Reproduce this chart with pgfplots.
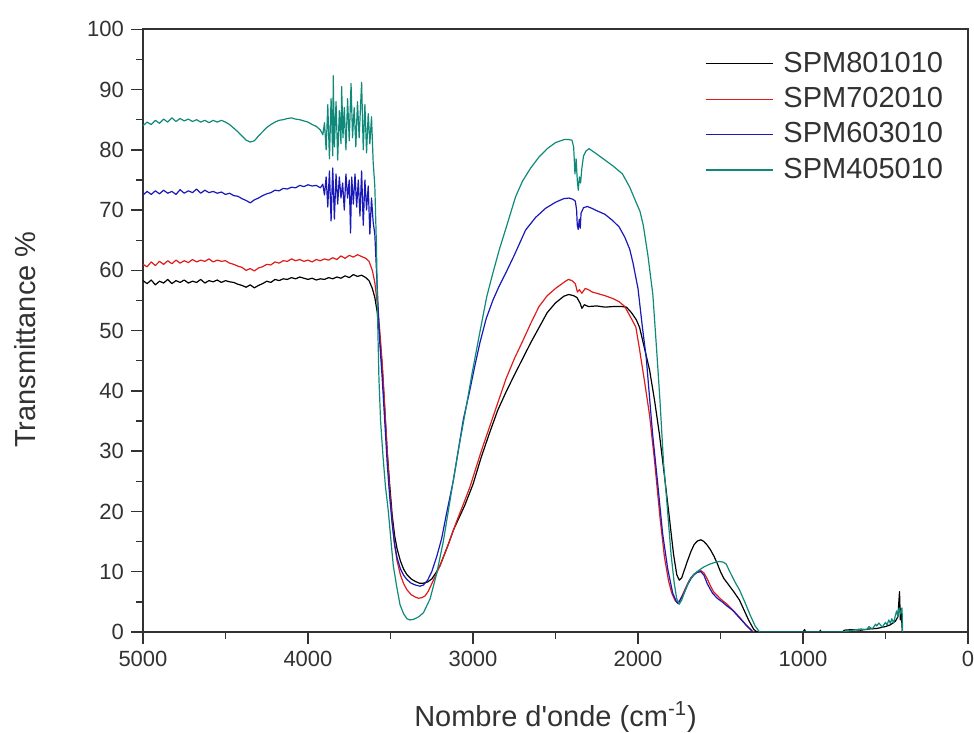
\documentclass[border=0pt]{standalone}
\usepackage{fontspec}
\setmainfont{Liberation Sans}
\newfontfamily\plainfont{Liberation Sans}
\usepackage{pgfplots}
\pgfplotsset{compat=1.18}
\definecolor{cRed}{RGB}{222,28,28}
\definecolor{cBlue}{RGB}{25,25,185}
\definecolor{cTeal}{RGB}{15,138,122}
\definecolor{cAxis}{RGB}{50,50,50}
\begin{document}
\begin{tikzpicture}
\begin{axis}[
  name=ax,
  scale only axis,
  width=412.5pt, height=301.35pt,
  x dir=reverse,
  xmin=0, xmax=5000, ymin=0, ymax=100,
  xtick={0,1000,2000,3000,4000,5000},
  ytick={0,10,...,100},
  minor x tick num=1, minor y tick num=1,
  scaled x ticks=false,
  /pgf/number format/1000 sep={},
  /pgf/number format/assume math mode=true,
  tick align=outside,
  xtick pos=bottom, ytick pos=left,
  major tick length=6pt, minor tick length=3.5pt,
  every tick/.style={cAxis, line width=0.7pt},
  axis line style={cAxis, line width=0.8pt},
  ticklabel style={font=\fontsize{11}{13}\selectfont, text=cAxis},
  xlabel={Nombre d{\plainfont '}onde (cm\textsuperscript{-1})},
  ylabel={Transmittance \%},
  xlabel style={font=\fontsize{14.5}{17}\selectfont, text=cAxis, at={(axis description cs:0.5,0)}, anchor=base, yshift=-47pt},
  ylabel style={font=\fontsize{14.5}{17}\selectfont, text=cAxis, at={(axis description cs:-0.143,0.485)}, anchor=center},
  legend cell align=left,
  legend style={at={(axis description cs:0.681,0.971)}, anchor=north west,
    draw=none, fill=none, inner sep=0pt, row sep=0pt,
    font=\fontsize{14.5}{17}\selectfont,
    nodes={inner sep=0pt, text height=12.5pt, text depth=5.2pt, text=cAxis},
    /tikz/every odd column/.append style={column sep=5pt}},
  legend image code/.code={\path (0pt,0pt); \draw[#1] (0pt,0.5pt) -- (33.5pt,0.5pt);},
  every axis plot/.append style={line width=0.6pt, line join=round},
]
% SPM801010
\addplot[black] coordinates {
(5000,58.3)(4975,57.8)(4950,58.4)(4925,57.6)(4900,58.2)(4875,57.9)(4850,58.5)(4825,57.8)(4800,58.3)(4775,58.0)
(4750,58.4)(4725,57.9)(4700,58.2)(4675,58.0)(4650,58.5)(4625,57.9)(4600,58.3)(4575,58.1)(4550,58.4)(4525,58.0)
(4500,58.3)(4475,58.1)(4450,58.0)(4425,57.7)(4400,57.5)(4375,57.2)(4350,57.6)(4325,57.1)(4300,57.5)(4275,57.8)
(4250,58.2)(4225,58.0)(4200,58.5)(4175,58.3)(4150,58.6)(4125,58.5)(4100,58.8)(4075,58.6)(4050,58.9)(4025,58.7)
(4000,58.5)(3975,58.7)(3950,58.4)(3925,58.6)(3900,58.5)(3875,58.8)(3850,58.6)(3825,58.9)(3800,58.7)(3775,59.1)
(3750,58.8)(3725,59.3)(3700,59.0)(3675,59.2)(3650,58.8)(3630,58.3)(3610,57.0)(3595,55.5)(3580,53.0)(3565,49.0)
(3550,44.0)(3535,37.0)(3520,30.0)(3505,24.5)(3490,19.5)(3475,16.0)(3460,13.8)(3440,11.8)(3420,10.4)(3400,9.5)
(3375,8.8)(3350,8.4)(3325,8.1)(3300,8.1)(3275,8.3)(3250,8.8)(3225,9.8)(3200,11.0)(3150,14.5)(3119,16.9)
(3050,21.0)(3000,24.5)(2950,29.0)(2900,33.0)(2850,36.8)(2800,39.8)(2750,42.6)(2700,45.3)(2650,48.0)(2600,50.5)
(2550,53.0)(2500,54.6)(2450,55.7)(2420,56.0)(2390,55.8)(2370,55.5)(2350,54.5)(2340,53.7)(2325,54.3)(2300,54.0)
(2250,54.1)(2200,53.9)(2150,54.0)(2100,54.0)(2070,53.9)(2040,53.0)(2010,51.8)(1990,50.5)(1960,47.0)(1930,43.5)
(1900,38.5)(1870,32.8)(1840,26.0)(1810,19.0)(1785,13.0)(1765,9.5)(1750,8.6)(1735,9.0)(1720,10.2)(1700,11.8)
(1680,13.3)(1660,14.5)(1640,15.1)(1618,15.3)(1600,15.0)(1580,14.4)(1560,13.6)(1540,12.6)(1520,11.4)(1500,10.0)
(1480,8.9)(1450,7.8)(1420,6.7)(1385,5.3)(1360,3.8)(1330,2.0)(1300,0.5)(1280,0)(1000,0)(990,0.4)(985,0)
(900,0)(895,0.3)(890,0)(760,0)(750,0.3)(700,0.4)(650,0.3)(600,0.5)(550,0.6)(500,0.9)(470,1.2)(440,1.8)
(425,2.5)(415,6.7)(410,2.0)(405,3.8)(398,0)
};
\addlegendentry{SPM801010}
% SPM702010
\addplot[cRed] coordinates {
(5000,61.0)(4975,60.6)(4950,61.4)(4925,60.8)(4900,61.5)(4875,61.0)(4850,61.6)(4825,61.1)(4800,61.7)(4775,61.2)
(4750,61.6)(4725,61.3)(4700,61.8)(4675,61.4)(4650,61.7)(4625,61.5)(4600,61.9)(4575,61.4)(4550,61.7)(4525,61.5)
(4500,61.6)(4475,61.2)(4450,61.0)(4425,60.7)(4400,60.5)(4375,60.0)(4350,60.3)(4325,59.9)(4300,60.4)(4275,60.6)
(4250,61.0)(4225,60.9)(4200,61.4)(4175,61.2)(4150,61.6)(4125,61.5)(4100,61.9)(4075,61.6)(4050,61.8)(4025,61.5)
(4000,61.7)(3975,61.4)(3950,61.8)(3925,61.6)(3900,61.9)(3875,61.7)(3850,62.1)(3825,61.8)(3800,62.4)(3775,62.0)
(3750,62.5)(3725,62.2)(3700,62.6)(3675,62.3)(3650,62.0)(3630,61.5)(3610,60.0)(3595,58.0)(3580,54.5)(3565,50.0)
(3550,44.5)(3535,37.5)(3520,30.0)(3505,23.5)(3490,18.5)(3475,14.5)(3460,11.8)(3440,9.5)(3420,8.0)(3400,7.0)
(3375,6.2)(3350,5.8)(3330,5.6)(3310,5.7)(3290,6.0)(3270,6.8)(3250,8.0)(3225,9.5)(3200,11.0)(3150,14.5)
(3100,18.3)(3050,21.8)(3018,24.1)(2950,30.0)(2900,34.0)(2850,38.0)(2800,42.0)(2750,45.3)(2700,48.2)(2650,51.2)
(2600,54.0)(2550,55.8)(2500,57.0)(2450,58.0)(2422,58.5)(2400,58.3)(2380,57.8)(2367,56.4)(2355,56.8)(2340,56.2)
(2320,57.0)(2300,56.8)(2277,56.4)(2250,56.2)(2200,55.8)(2150,55.3)(2114,54.8)(2080,54.0)(2050,52.5)(2013,50.6)
(1990,46.8)(1960,41.5)(1930,36.0)(1900,28.5)(1867,19.1)(1840,12.5)(1815,8.5)(1796,6.5)(1775,5.2)(1760,4.8)
(1745,5.3)(1720,6.8)(1700,8.0)(1680,9.0)(1660,9.6)(1640,10.0)(1620,10.2)(1600,9.8)(1580,8.8)(1560,7.6)
(1540,6.6)(1500,5.5)(1460,4.6)(1420,3.5)(1380,2.3)(1340,1.0)(1300,0)
};
\addlegendentry{SPM702010}
% SPM603010
\addplot[cBlue] coordinates {
(5000,72.5)(4975,73.1)(4950,72.6)(4925,73.2)(4900,72.7)(4875,73.3)(4850,72.8)(4825,73.1)(4800,72.6)(4775,73.4)
(4750,72.8)(4725,73.2)(4700,72.9)(4675,73.5)(4650,72.8)(4625,73.3)(4600,72.9)(4575,73.1)(4550,72.8)(4525,73.0)
(4500,72.6)(4475,72.8)(4450,72.4)(4425,72.3)(4400,71.9)(4375,71.6)(4350,71.2)(4325,71.7)(4300,72.0)(4275,72.4)
(4250,72.7)(4225,72.9)(4200,73.3)(4175,73.2)(4150,73.6)(4125,73.5)(4100,73.8)(4075,73.7)(4050,74.1)(4025,73.9)
(4000,74.2)(3975,74.0)(3950,74.1)(3925,73.7)(3910,74.3)(3900,72.5)(3890,75.5)(3880,70.5)(3870,76.5)(3860,68.2)
(3850,77.0)(3840,68.5)(3830,76.0)(3820,71.0)(3810,75.5)(3800,72.0)(3790,74.5)(3780,70.0)(3770,76.0)(3760,72.0)
(3750,75.0)(3742,66.2)(3735,75.5)(3725,71.0)(3715,76.0)(3705,70.5)(3695,75.0)(3685,69.0)(3675,76.5)(3665,67.5)
(3655,75.0)(3645,70.0)(3635,74.0)(3625,66.0)(3615,72.0)(3605,68.0)(3595,66.0)(3585,60.0)(3575,54.0)(3565,48.0)
(3550,42.0)(3535,35.0)(3520,28.0)(3505,22.5)(3490,18.0)(3475,14.5)(3460,12.3)(3440,10.5)(3420,9.4)(3400,8.7)
(3375,8.1)(3350,7.8)(3321,7.6)(3300,7.8)(3275,8.6)(3250,10.0)(3220,12.5)(3190,15.5)(3160,19.7)(3120,25.0)
(3090,30.0)(3059,35.2)(3020,40.0)(2990,44.0)(2958,48.0)(2920,52.0)(2880,55.0)(2843,57.3)(2806,59.3)(2750,62.5)
(2681,66.7)(2620,68.8)(2560,70.3)(2500,71.3)(2450,71.9)(2418,72.0)(2395,71.8)(2380,71.5)(2372,70.0)(2368,67.5)
(2362,66.8)(2356,68.5)(2350,67.0)(2345,69.5)(2330,70.4)(2307,70.6)(2280,70.3)(2250,69.9)(2200,69.3)(2155,68.3)
(2114,67.2)(2080,65.5)(2050,63.5)(2030,61.2)(2000,57.0)(1973,50.5)(1950,45.5)(1912,33.0)(1880,24.5)(1851,16.4)
(1820,10.5)(1790,6.5)(1770,5.2)(1757,4.7)(1745,5.3)(1720,6.5)(1700,7.8)(1680,8.8)(1660,9.5)(1640,9.9)
(1618,10.0)(1600,9.4)(1580,8.0)(1560,7.0)(1547,6.4)(1520,5.6)(1490,5.0)(1460,4.3)(1426,3.6)(1390,2.5)
(1350,1.3)(1304,0)
};
\addlegendentry{SPM603010}
% SPM405010
\addplot[cTeal] coordinates {
(5000,84.0)(4975,84.6)(4950,84.2)(4925,84.9)(4900,84.4)(4875,85.1)(4850,84.6)(4825,85.3)(4800,84.7)(4775,85.2)
(4750,84.8)(4725,85.1)(4700,84.7)(4675,85.0)(4650,84.6)(4625,84.9)(4600,84.5)(4575,84.9)(4550,84.6)(4525,84.9)
(4500,84.6)(4475,84.2)(4450,83.6)(4425,83.0)(4400,82.3)(4375,81.6)(4350,81.3)(4325,81.5)(4300,82.3)(4275,83.0)
(4250,83.7)(4225,84.2)(4200,84.6)(4175,84.9)(4150,85.0)(4125,85.2)(4100,85.3)(4075,85.1)(4050,85.0)(4025,84.8)
(4000,84.6)(3975,84.2)(3950,83.9)(3925,83.3)(3910,82.5)(3900,84.5)(3890,80.0)(3880,87.5)(3870,78.5)(3860,88.5)
(3850,79.0)(3847,92.3)(3840,80.5)(3830,88.0)(3820,78.3)(3810,86.5)(3800,81.0)(3796,90.5)(3788,82.0)(3780,87.0)
(3770,80.0)(3760,88.5)(3750,81.5)(3739,91.0)(3730,82.0)(3720,87.0)(3710,80.5)(3700,88.0)(3690,82.0)(3675,91.2)
(3665,80.0)(3655,87.5)(3645,79.5)(3635,86.0)(3625,81.0)(3615,85.5)(3605,78.0)(3595,74.0)(3585,64.0)(3578,52.0)
(3570,42.0)(3560,35.0)(3545,29.0)(3530,24.0)(3513,20.0)(3495,14.5)(3483,11.0)(3462,7.5)(3442,4.5)(3420,3.0)
(3400,2.2)(3382,2.0)(3360,2.1)(3330,2.5)(3300,3.2)(3260,5.5)(3220,9.7)(3180,15.0)(3150,20.0)(3119,25.2)
(3080,31.5)(3040,37.5)(3005,43.0)(2960,49.5)(2917,55.6)(2880,59.5)(2840,63.5)(2800,67.0)(2742,72.2)(2700,74.8)
(2650,77.0)(2600,78.8)(2550,80.2)(2500,81.2)(2448,81.7)(2420,81.7)(2400,81.6)(2390,80.5)(2382,76.0)(2375,78.5)
(2368,75.0)(2362,73.3)(2355,75.5)(2348,74.5)(2340,77.0)(2330,79.0)(2315,79.8)(2297,80.2)(2250,79.3)(2200,78.3)
(2150,77.3)(2094,76.0)(2050,73.8)(2010,71.2)(1988,69.8)(1968,67.5)(1940,62.5)(1910,56.0)(1885,46.0)(1867,38.5)
(1845,28.0)(1826,21.9)(1800,13.0)(1780,8.0)(1765,5.5)(1750,4.6)(1735,5.3)(1715,6.8)(1690,8.5)(1660,9.6)
(1628,10.3)(1600,10.8)(1570,11.2)(1540,11.5)(1507,11.7)(1485,11.6)(1466,11.3)(1440,9.8)(1410,8.2)(1385,7.0)
(1350,4.8)(1320,2.8)(1290,1.0)(1263,0)(760,0)(700,0.3)(650,0.5)(614,0.4)(600,0.9)(580,0.5)(560,1.3)(553,1.0)
(540,1.5)(520,0.8)(500,1.6)(490,1.2)(480,2.0)(470,1.4)(462,2.2)(450,1.5)(440,2.8)(432,3.5)(425,2.5)(418,4.0)
(410,3.0)(400,4.0)(396,0)
};
\addlegendentry{SPM405010}
\end{axis}
\pgfresetboundingbox
\path[use as bounding box] ([xshift=-71.5pt,yshift=-50.5pt]ax.south west) rectangle ([xshift=3pt,yshift=14.65pt]ax.north east);
\end{tikzpicture}
\end{document}
